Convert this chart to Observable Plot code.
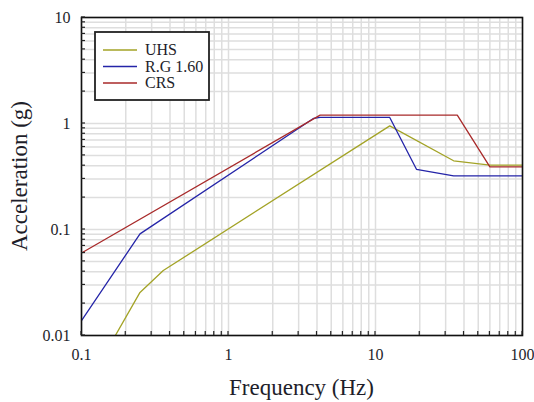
<!DOCTYPE html>
<html><head><meta charset="utf-8">
<script src="https://cdn.jsdelivr.net/npm/d3@7"></script>
<script src="https://cdn.jsdelivr.net/npm/@observablehq/plot@0.6"></script>
<style>body{margin:0;background:#fff} svg{display:block}</style>
</head><body><div id="chart"></div>
<script>
const seriesNames = ["UHS", "R.G 1.60", "CRS"];
const seriesColors = ["#a3a326", "#2424a8", "#a82a2a"];

const uhsFreq = [0.17, 0.25, 0.36, 12.5, 34, 60, 100];
const uhsAcc  = [0.01, 0.0255, 0.041, 0.95, 0.445, 0.405, 0.405];
const rgFreq  = [0.1, 0.25, 3.8, 4.2, 12.5, 19, 34, 100];
const rgAcc   = [0.0138, 0.091, 1.12, 1.14, 1.14, 0.37, 0.32, 0.32];
const crsFreq = [0.1, 4.2, 36, 60, 100];
const crsAcc  = [0.06, 1.2, 1.2, 0.39, 0.39];

const xTickValues = [0.1, 1, 10, 100];
const xTickLabels = ["0.1", "1", "10", "100"];
const yTickValues = [0.01, 0.1, 1, 10];
const yTickLabels = ["0.01", "0.1", "1", "10"];
const xTitle = "Frequency (Hz)";
const yTitle = "Acceleration (g)";

const rows = [];
[[uhsFreq, uhsAcc], [rgFreq, rgAcc], [crsFreq, crsAcc]].forEach(([fs, as], i) => {
  fs.forEach((f, j) => rows.push({s: seriesNames[i], f, a: as[j]}));
});

function minorValues(lo, hi) {
  const a = [];
  for (let e = lo; e < hi; e++) for (let k = 1; k < 10; k++) a.push(+(k * Math.pow(10, e)).toPrecision(6));
  a.push(Math.pow(10, hi));
  return a;
}
const gx = minorValues(-1, 2);
const gy = minorValues(-2, 1);

const serif = "'Liberation Serif', 'Times New Roman', serif";
const plot = Plot.plot({
  width: 534, height: 402,
  marginLeft: 81, marginRight: 12, marginTop: 17, marginBottom: 67,
  style: {fontFamily: serif, fontSize: "16px", color: "#1e1e2a", background: "#fff"},
  x: {type: "log", domain: [0.1, 100]},
  y: {type: "log", domain: [0.01, 10]},
  color: {domain: seriesNames, range: seriesColors},
  marks: [
    Plot.ruleX(gx, {stroke: "#dedede", strokeWidth: 1.5}),
    Plot.ruleY(gy, {stroke: "#dedede", strokeWidth: 1.5}),
    Plot.line(rows, {x: "f", y: "a", z: "s", stroke: "s", strokeWidth: 1.3, clip: true}),
    Plot.axisX({ticks: xTickValues, tickFormat: d => xTickLabels[xTickValues.indexOf(d)], tickSize: 0, tickPadding: 13, label: null}),
    Plot.axisY({ticks: yTickValues, tickFormat: d => yTickLabels[yTickValues.indexOf(d)], tickSize: 0, tickPadding: 11, label: null}),
    Plot.frame({stroke: "#111", strokeWidth: 1.6})
  ]
});
document.getElementById("chart").append(plot);

const sx = plot.scale("x"), sy = plot.scale("y");
const svg = d3.select(plot);
const x0 = sx.apply(0.1), x1 = sx.apply(100), y0 = sy.apply(0.01), y1 = sy.apply(10);
const tg = svg.append("g").attr("stroke", "#222").attr("stroke-width", 1.2);
gx.forEach(v => {
  const x = sx.apply(v);
  tg.append("line").attr("x1", x).attr("x2", x).attr("y1", y0).attr("y2", y0 - 4);
});
gy.forEach(v => {
  const y = sy.apply(v);
  tg.append("line").attr("x1", x0).attr("x2", x0 + 4).attr("y1", y).attr("y2", y);
});

// axis titles
svg.append("text").attr("x", (x0 + x1) / 2).attr("y", 395).attr("text-anchor", "middle")
  .attr("font-family", serif).attr("font-size", 23).attr("fill", "#1e1e2a").text(xTitle);
svg.append("text").attr("transform", `translate(27,${(y0 + y1) / 2}) rotate(-90)`).attr("text-anchor", "middle")
  .attr("font-family", serif).attr("font-size", 23).attr("fill", "#1e1e2a").text(yTitle);

// legend
const lg = svg.append("g");
lg.append("rect").attr("x", 95).attr("y", 32).attr("width", 114).attr("height", 68)
  .attr("fill", "#fff").attr("stroke", "#222").attr("stroke-width", 1.8);
seriesNames.forEach((n, i) => {
  const y = 50 + i * 16.5;
  lg.append("line").attr("x1", 103).attr("x2", 137).attr("y1", y).attr("y2", y)
    .attr("stroke", seriesColors[i]).attr("stroke-width", 1.5);
  lg.append("text").attr("x", 145).attr("y", y + 5).attr("text-anchor", "start").attr("font-family", serif)
    .attr("font-size", 16).attr("fill", "#1e1e2a").text(n);
});
</script>
</body></html>
